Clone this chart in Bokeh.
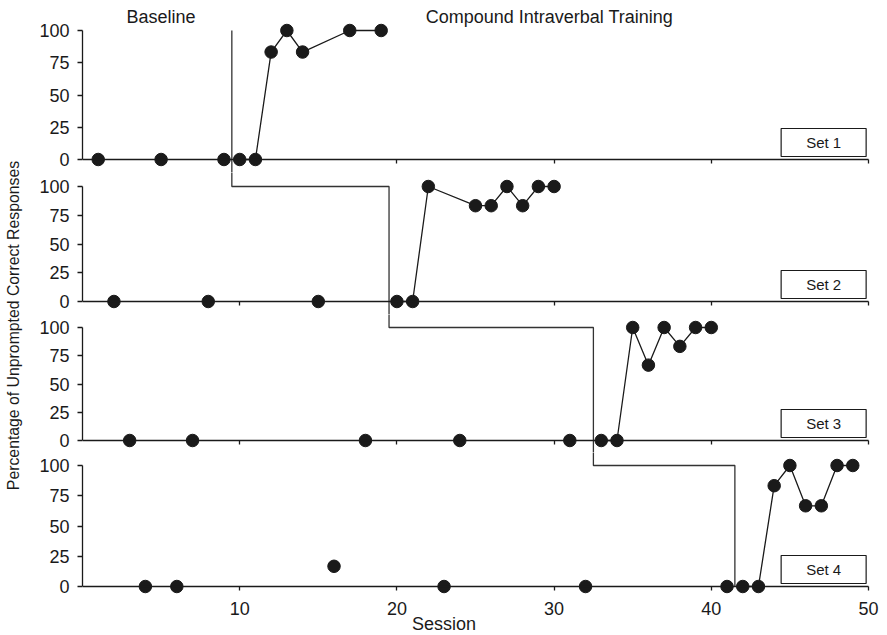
import math
from bokeh.plotting import figure
from bokeh.models import Range1d, LinearAxis, FixedTicker
from bokeh.layouts import row, column
from bokeh.core.properties import value
from bokeh.embed import file_html
from bokeh.resources import INLINE

# ---------------- data ----------------
x_ticks = [10, 20, 30, 40, 50]
y_ticks = [0, 25, 50, 75, 100]
set_labels = ["Set 1", "Set 2", "Set 3", "Set 4"]
phase_labels = ["Baseline", "Compound Intraverbal Training"]
x_label = "Session"
y_label = "Percentage of Unprompted Correct Responses"
phase_change = [9.5, 19.5, 32.5, 41.5]

set1_base_x = [1, 5, 9]
set1_base_y = [0, 0, 0]
set1_trt_x = [10, 11, 12, 13, 14, 17, 19]
set1_trt_y = [0, 0, 83.3, 100, 83.3, 100, 100]

set2_base_x = [2, 8, 15]
set2_base_y = [0, 0, 0]
set2_trt_x = [20, 21, 22, 25, 26, 27, 28, 29, 30]
set2_trt_y = [0, 0, 100, 83.3, 83.3, 100, 83.3, 100, 100]

set3_base_x = [3, 7, 18, 24, 31]
set3_base_y = [0, 0, 0, 0, 0]
set3_trt_x = [33, 34, 35, 36, 37, 38, 39, 40]
set3_trt_y = [0, 0, 100, 66.7, 100, 83.3, 100, 100]

set4_base_x = [4, 6, 16, 23, 32, 41]
set4_base_y = [0, 0, 16.7, 0, 0, 0]
set4_trt_x = [42, 43, 44, 45, 46, 47, 48, 49]
set4_trt_y = [0, 0, 83.3, 100, 66.7, 66.7, 100, 100]

base_x = [set1_base_x, set2_base_x, set3_base_x, set4_base_x]
base_y = [set1_base_y, set2_base_y, set3_base_y, set4_base_y]
trt_x = [set1_trt_x, set2_trt_x, set3_trt_x, set4_trt_x]
trt_y = [set1_trt_y, set2_trt_y, set3_trt_y, set4_trt_y]

# ---------------- layout / style ----------------
FONT = "Liberation Sans"
INK = "#1a1a1a"
LABEL_W = 24
LEFT = 58
PX_PER_X = 786 / 50.0
EXTRA_R = 14           # frame continues a little past x=50 so the "50" label shows
FRAME_W = 786 + EXTRA_R
RIGHT = 4
# (frame height, pixels from frame top to y=100, pixels per y unit)
panel_geom = [(172, 30, 1.29), (142, 14, 1.15), (138, 13, 1.13), (182, 13, 1.21)]
TOTAL_H = sum(g[0] for g in panel_geom)

x_range = Range1d(0, 50 + EXTRA_R / PX_PER_X)
panels = []
for i, (H, top_pad, k) in enumerate(panel_geom):
    y_end = 100 + top_pad / k
    y_start = y_end - H / k
    p = figure(width=LEFT + FRAME_W + RIGHT, height=H,
               x_range=x_range, y_range=Range1d(y_start, y_end),
               x_axis_location=None, y_axis_location=None,
               toolbar_location=None, output_backend="svg",
               min_border=0, min_border_left=LEFT, min_border_right=RIGHT)
    p.outline_line_color = None
    p.background_fill_color = "white"
    p.border_fill_color = "white"
    for g in p.grid:
        g.visible = False

    yaxis = LinearAxis(ticker=FixedTicker(ticks=y_ticks), bounds=(0, 100),
                       major_tick_in=0, major_tick_out=5,
                       minor_tick_in=0, minor_tick_out=0,
                       major_label_standoff=8,
                       major_label_text_font=FONT,
                       major_label_text_font_size="18px",
                       major_label_text_color=INK,
                       axis_line_color=INK, axis_line_width=1.3,
                       major_tick_line_color=INK, major_tick_line_width=1.3)
    p.add_layout(yaxis, "left")

    xaxis = LinearAxis(fixed_location=0, ticker=FixedTicker(ticks=x_ticks),
                       bounds=(0, 50),
                       major_tick_in=0, major_tick_out=4,
                       minor_tick_in=0, minor_tick_out=0,
                       major_label_standoff=11,
                       major_label_text_font=FONT,
                       major_label_text_font_size="18px",
                       major_label_text_color=INK,
                       axis_line_color=INK, axis_line_width=1.3,
                       major_tick_line_color=INK, major_tick_line_width=1.3)
    if i < 3:
        xaxis.major_label_text_alpha = 0
    p.add_layout(xaxis, "below")

    # phase-change line (staircase)
    px, py = [], []
    if i > 0:
        px += [phase_change[i - 1], phase_change[i - 1]]
        py += [500, 100]
    else:
        px += [phase_change[0]]
        py += [100]
    px += [phase_change[i]]
    py += [100]
    px += [phase_change[i]]
    py += [-500 if i < 3 else 0]
    p.line(px, py, line_color="#333333", line_width=1.3)

    # data
    p.line(trt_x[i], trt_y[i], line_color=INK, line_width=1.3)
    p.scatter(trt_x[i], trt_y[i], size=12.5, color=INK)
    p.scatter(base_x[i], base_y[i], size=12.5, color=INK)

    # set label box
    bx = 49.85 - 42.5 / PX_PER_X
    by = 17 / k
    p.rect(x=[bx], y=[by], width=85, height=28, width_units="screen",
           height_units="screen", fill_color="white", line_color=INK,
           line_width=1.2)
    p.text(x=[bx], y=[by], text=[set_labels[i]], text_align="center",
           text_baseline="middle", text_font=value(FONT),
           text_font_size="15px", text_color=INK)

    if i == 0:
        hy = 100 + 14 / k
        p.text(x=[5.0, 29.7], y=[hy, hy], text=phase_labels,
               text_align="center", text_baseline="middle",
               text_font=value(FONT), text_font_size="18px", text_color=INK)
    if i == 3:
        p.text(x=[23.0], y=[-37 / k], text=[x_label], text_align="center",
               text_baseline="middle", text_font=value(FONT),
               text_font_size="18px", text_color=INK)
    panels.append(p)

lab = figure(width=LABEL_W, height=TOTAL_H, x_range=Range1d(0, LABEL_W),
             y_range=Range1d(0, TOTAL_H), x_axis_location=None,
             y_axis_location=None, toolbar_location=None,
             output_backend="svg", min_border=0)
lab.outline_line_color = None
for g in lab.grid:
    g.visible = False
lab.text(x=[13], y=[TOTAL_H - 325], text=[y_label], angle=math.pi / 2,
         text_align="center", text_baseline="middle", text_font=value(FONT),
         text_font_size="15.8px", text_color=INK)

layout = row(lab, column(*panels, spacing=0), spacing=0)
open("out.html", "w").write(file_html(layout, INLINE))
